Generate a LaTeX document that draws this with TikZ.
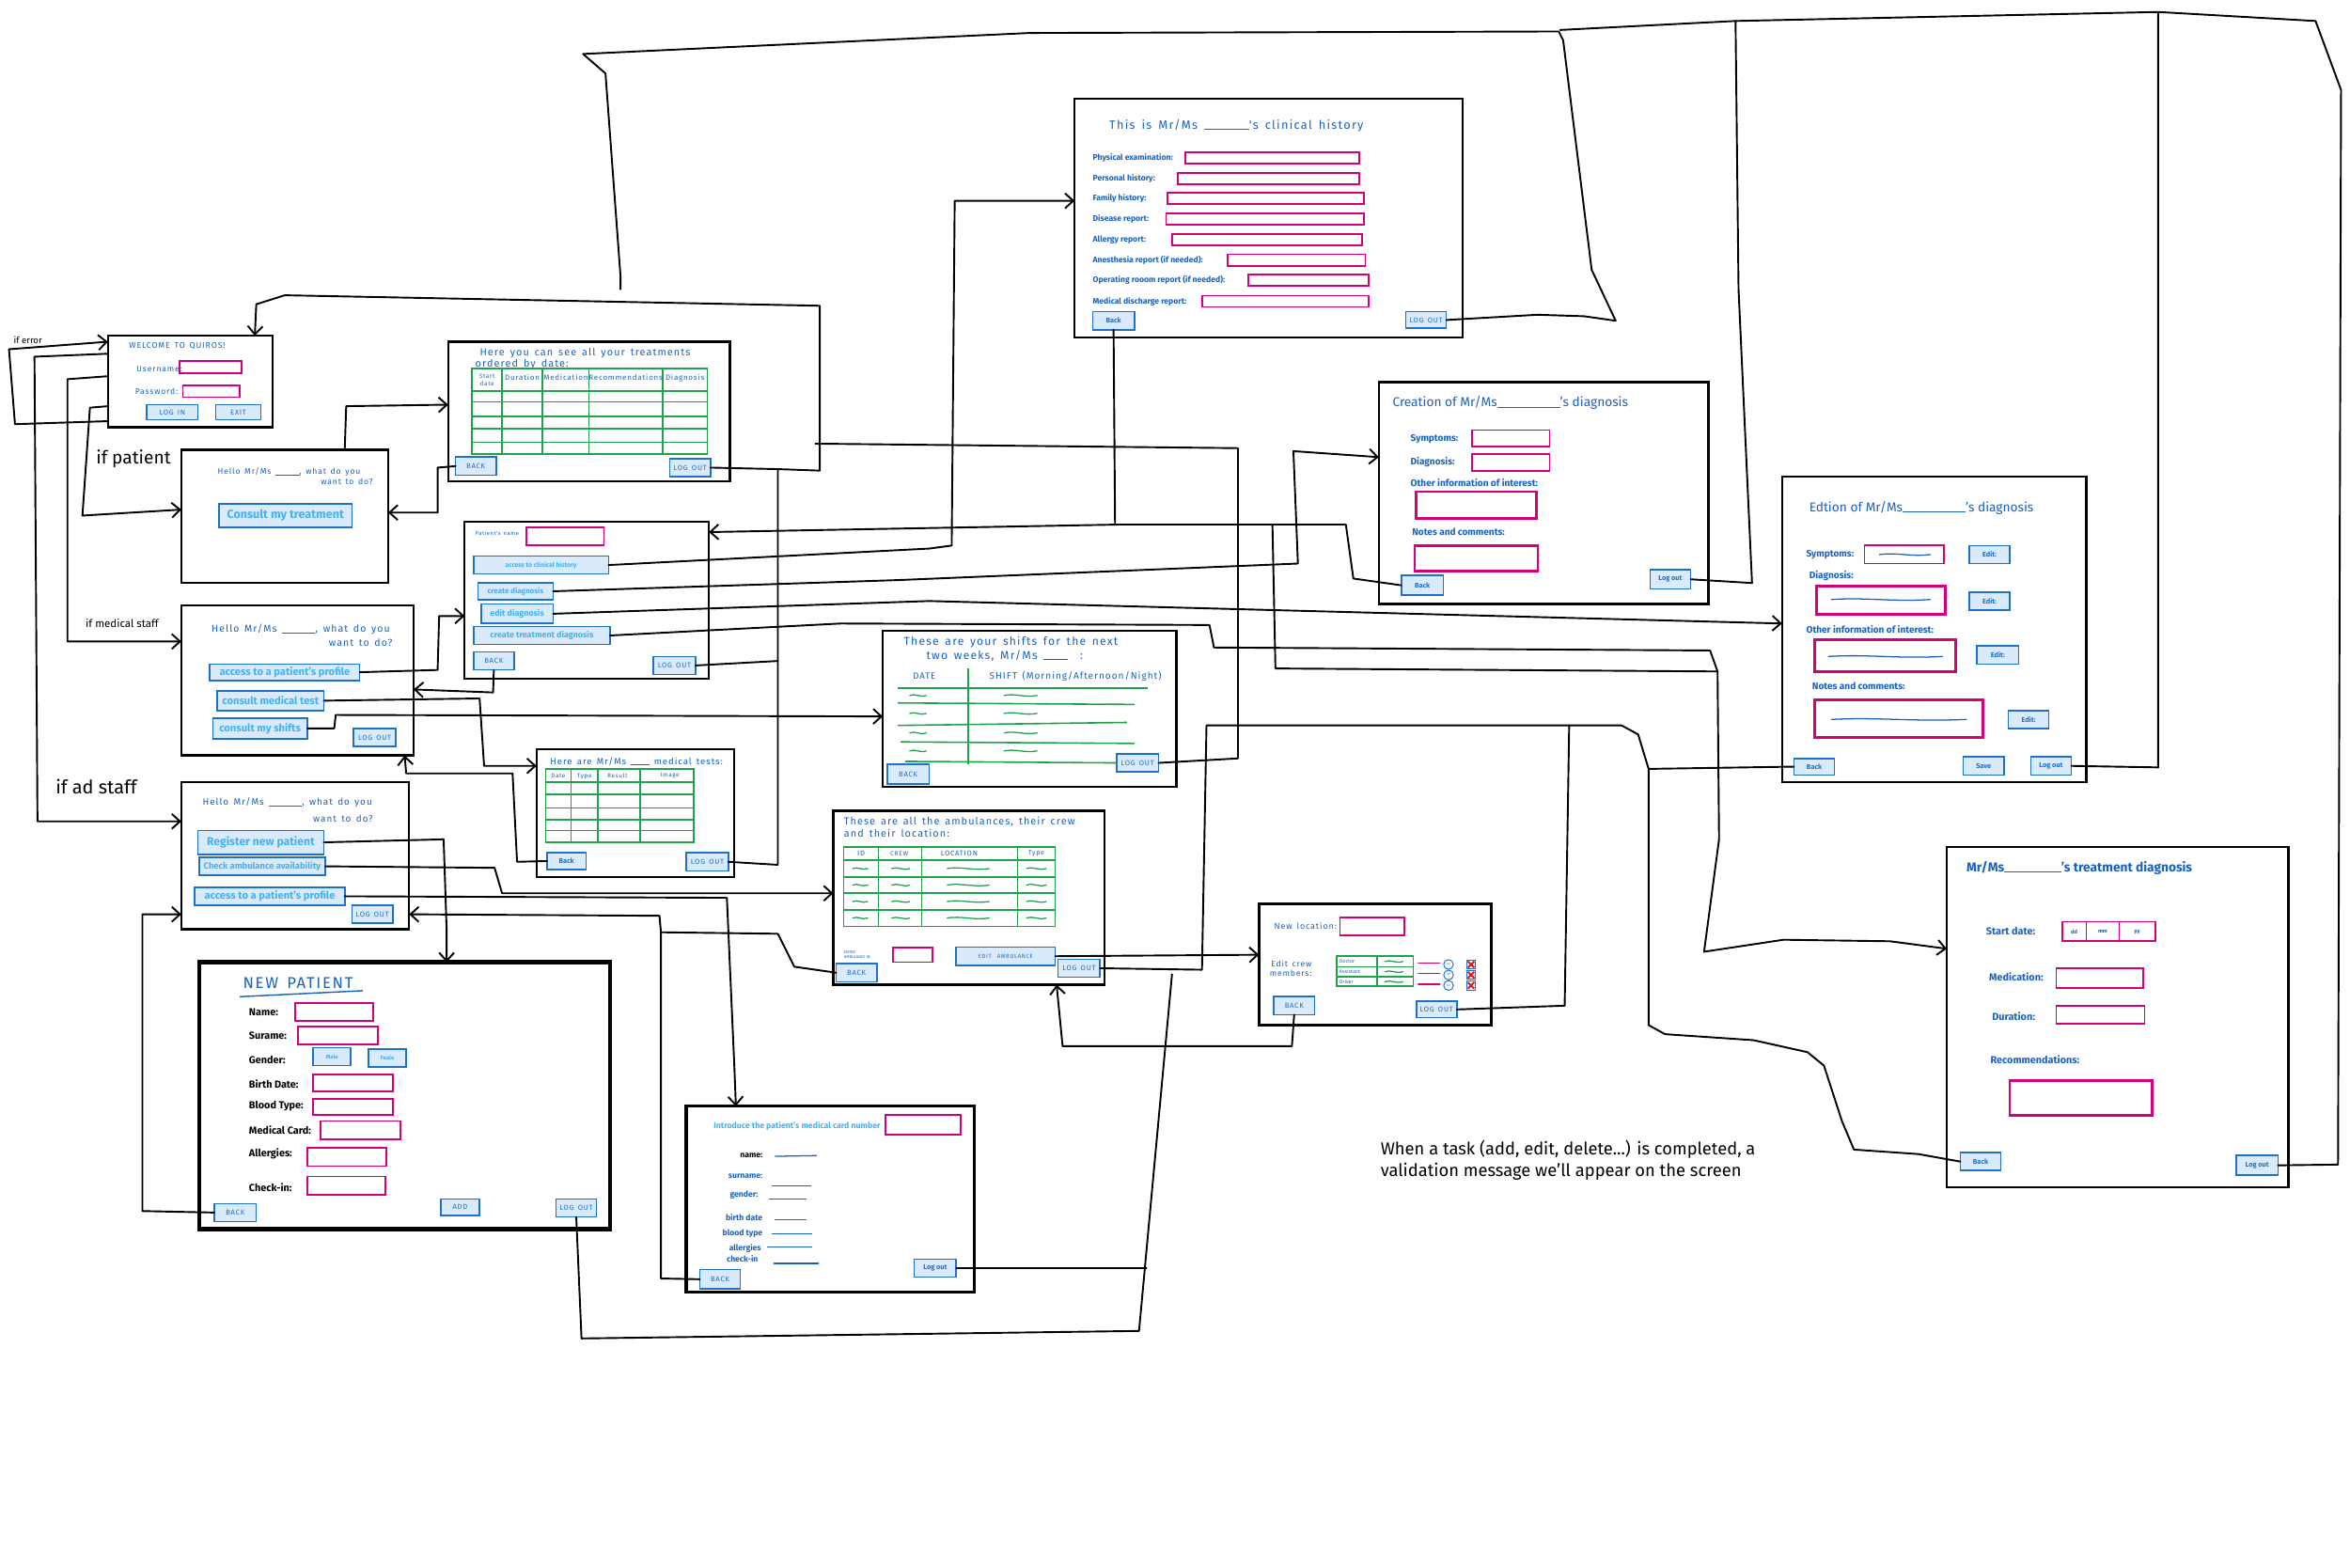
\documentclass[tikz,border=0pt]{standalone}
\usepackage{fontspec}
\setmainfont{Fira Sans}
\newfontfamily\hand[LetterSpace=10,WordSpace=1.5]{Fira Sans}
\usetikzlibrary{arrows.meta}

\definecolor{ink}{HTML}{1A62C0}
\definecolor{btnfill}{HTML}{D9EAFB}
\definecolor{btnline}{HTML}{1E70C8}
\definecolor{btntext}{HTML}{45B2F0}
\definecolor{fieldpink}{HTML}{D3007A}
\definecolor{gridgreen}{HTML}{1FA24B}
\definecolor{xred}{HTML}{E3141B}

\newcommand\fs[1]{\fontsize{#1}{\fpeval{1.2*#1}}\selectfont}
% \uibox{style}{name}{x1}{y1}{x2}{y2}{text}
\newcommand\uibox[7]{\node[#1,minimum width={#5-#3},minimum height={#6-#4}] (#2) at ({(#3+#5)/2},{(#4+#6)/2}) {#7};}
% \squig[colour]{x}{y}{width}
\newcommand\squig[4][gridgreen]{\draw[#1,line width=0.8pt,line cap=round] (#2,#3) .. controls ({#2+#4*0.35},{#3-1.6}) and ({#2+#4*0.6},{#3+1.6}) .. ({#2+#4},{#3});}
\newcommand\blank[1]{\rule[-0.3pt]{#1pt}{0.45pt}}

\tikzset{
  screen/.style={draw=black,line width=1.5pt,inner sep=0pt,outer sep=0pt},
  btn/.style={draw=btnline,fill=btnfill,line width=1pt,inner sep=0pt,outer sep=0pt,text=btnline,font=\hand\fs{4.8}},
  mbtn/.style={btn,text=btntext,font=\fs{7}\bfseries},
  bbtn/.style={btn,font=\fs{4.6}\bfseries},
  field/.style={draw=fieldpink,line width=1.1pt,inner sep=0pt,outer sep=0pt},
  bigfield/.style={field,line width=1.7pt},
  grid/.style={draw=gridgreen,line width=1pt},
  hand/.style={text=ink,inner sep=0pt,anchor=west},
  lbl/.style={hand,font=\fs{6.3}\bfseries},
  wire/.style={draw=black,line width=1.2pt,line join=round,line cap=round},
  arr/.style={wire,-{Straight Barb[length=5.5pt,width=10pt]}},
}

\begin{document}
\begin{tikzpicture}[x=1pt,y=-1pt]
\useasboundingbox (0,0) rectangle (1568,1046);
\fill[white] (0,0) rectangle (1568,1046);

%% ---------- log-in screen ----------
\uibox{screen}{login}{72}{224}{182}{285}{}
\node[hand,font=\hand\fs{5.5}] (loginTitle) at (86,231) {WELCOME TO QUIROS!};
\node[hand,font=\hand\fs{5.4}] (userLbl) at (91,246) {Username:};
\uibox{field}{userFld}{120}{241}{161}{249}{}
\node[hand,font=\hand\fs{5.4}] (passLbl) at (90,261) {Password:};
\uibox{field}{passFld}{122}{257}{160}{265}{}
\uibox{btn}{loginBtn}{98}{270}{132}{280}{LOG IN}
\uibox{btn}{exitBtn}{144}{270}{174}{280}{EXIT}

%% ---------- patient home ----------
\uibox{screen}{patHome}{121}{300}{259}{389}{}
\node[hand,font=\hand\fs{5.4}] (patHello) at (145,315) {Hello Mr/Ms\ \blank{16}, what do you};
\node[hand,font=\hand\fs{5.4},anchor=east] (patHello2) at (249,321.5) {want to do?};
\uibox{mbtn,font=\fs{7.9}\bfseries}{consultBtn}{146}{336}{235}{352}{Consult my treatment}

%% ---------- patient treatments ----------
\uibox{screen}{treat}{299}{228}{487}{321}{}
\node[hand,font=\hand\fs{6.8}] (treatTitle) at (320,235.5) {Here you can see all your treatments};
\node[hand,font=\hand\fs{6.8}] (treatTitle2) at (317,243) {ordered by date:};
\draw[grid] (315,246) rectangle (472,303);
\foreach \cx in {335,362,393,442} {\draw[grid] (\cx,246) -- (\cx,303);}
\foreach \ry in {261,268,278,286,295} {\draw[grid] (315,\ry) -- (472,\ry);}
\node[hand,anchor=center,align=center,font=\hand\fs{4}] (thStart) at (325,253.5) {Start\\date};
\node[hand,anchor=center,font=\hand\fs{5}] (thDur) at (348.5,252) {Duration};
\node[hand,anchor=center,font=\hand\fs{5}] (thMed) at (377.5,252) {Medication};
\node[hand,anchor=center,font=\hand\fs{5}] (thRec) at (417.5,252) {Recommendations};
\node[hand,anchor=center,font=\hand\fs{5}] (thDiag) at (457,252) {Diagnosis};
\uibox{btn}{treatBack}{304}{305}{331}{317}{BACK}
\uibox{btn}{treatOut}{447}{306}{474}{318}{LOG OUT}

%% ---------- medical staff home ----------
\uibox{screen}{medHome}{121}{404}{276}{504}{}
\node[hand,font=\hand\fs{6.6}] (medHello) at (141,420) {Hello Mr/Ms\ \blank{22}, what do you};
\node[hand,font=\hand\fs{6.6},anchor=east] (medHello2) at (262,428.5) {want to do?};
\uibox{mbtn}{medProfileBtn}{140}{443}{240}{454}{access to a patient's profile}
\uibox{mbtn}{medTestBtn}{145}{461}{216}{474}{consult medical test}
\uibox{mbtn}{medShiftBtn}{142}{479}{205}{493}{consult my shifts}
\uibox{btn}{medOut}{236}{486}{264}{498}{LOG OUT}

%% ---------- patient profile (medical staff) ----------
\uibox{screen}{profile}{310}{348}{473}{453}{}
\node[hand,font=\hand\fs{3.6}] (profNameLbl) at (317,356) {Patient's name};
\uibox{field}{profNameFld}{351}{352}{403}{364}{}
\uibox{mbtn,font=\fs{4.3}\bfseries}{clinBtn}{316}{371}{406}{383}{access to clinical history}
\uibox{mbtn,font=\fs{5}\bfseries}{createDiagBtn}{319}{389}{369}{400}{create diagnosis}
\uibox{mbtn,font=\fs{5.6}\bfseries}{editDiagBtn}{321}{403}{369}{416}{edit diagnosis}
\uibox{mbtn,font=\fs{5.6}\bfseries}{treatDiagBtn}{316}{418}{407}{430}{create treatment diagnosis}
\uibox{btn}{profBack}{316}{435}{343}{447}{BACK}
\uibox{btn}{profOut}{436}{438}{464}{450}{LOG OUT}

%% ---------- clinical history ----------
\uibox{screen}{clinical}{717}{66}{976}{225}{}
\node[hand,font=\hand\fs{8}] (clinTitle) at (740,84) {This is Mr/Ms\ \blank{30}'s clinical history};
\foreach \lab/\yy/\xa/\xb [count=\i] in {Physical examination:/105.5/791/907,Personal history:/119/786/907,Family history:/132.5/779/910,Disease report:/146/778/910,Allergy report:/160/782/909,Anesthesia report (if needed):/173.5/819/911,Operating rooom report (if needed):/187/833/913,Medical discharge report:/201/802/913}{
  \node[lbl,font=\fs{5.4}\bfseries] (clinLbl\i) at (729,\yy) {\lab};
  \draw[field] (\xa,\yy-3.8) rectangle (\xb,\yy+3.8);
}
\uibox{bbtn}{clinBack}{729}{208}{757}{220}{Back}
\uibox{btn}{clinOut}{938}{208}{965}{219}{LOG OUT}

%% ---------- creation of a diagnosis ----------
\uibox{screen}{creation}{920}{255}{1140}{403}{}
\node[hand,font=\fs{8.6}] (creaTitle) at (929,269) {Creation of Mr/Ms\blank{42}'s diagnosis};
\node[lbl] (creaSymLbl) at (941,293) {Symptoms:};
\uibox{field}{creaSymFld}{982}{287}{1034}{298}{}
\node[lbl] (creaDiagLbl) at (941,308) {Diagnosis:};
\uibox{field}{creaDiagFld}{982}{303}{1034}{314}{}
\node[lbl] (creaOtherLbl) at (941,322) {Other information of interest:};
\uibox{bigfield}{creaOtherFld}{945}{328}{1025}{346}{}
\node[lbl] (creaNotesLbl) at (942,355) {Notes and comments:};
\uibox{bigfield}{creaNotesFld}{944}{364}{1026}{381}{}
\uibox{bbtn}{creaBack}{935}{384}{963}{397}{Back}
\uibox{bbtn}{creaOut}{1101}{380}{1128}{393}{Log out}

%% ---------- edition of a diagnosis ----------
\uibox{screen}{edition}{1189}{318}{1392}{522}{}
\node[hand,font=\fs{8.6}] (ediTitle) at (1207,339) {Edtion of Mr/Ms\blank{42}'s diagnosis};
\node[lbl] (ediSymLbl) at (1205,370) {Symptoms:};
\uibox{field}{ediSymFld}{1244}{364}{1297}{376}{}
\squig[ink]{1254}{370}{34}
\uibox{bbtn}{ediSymEdit}{1314}{364}{1341}{376}{Edit:}
\node[lbl] (ediDiagLbl) at (1207,384) {Diagnosis:};
\uibox{bigfield}{ediDiagFld}{1212}{391}{1298}{410}{}
\squig[ink]{1222}{400}{66}
\uibox{bbtn}{ediDiagEdit}{1314}{395}{1341}{407}{Edit:}
\node[lbl] (ediOtherLbl) at (1205,420) {Other information of interest:};
\uibox{bigfield}{ediOtherFld}{1211}{427}{1305}{448}{}
\squig[ink]{1220}{438}{76}
\uibox{bbtn}{ediOtherEdit}{1319}{431}{1347}{443}{Edit:}
\node[lbl] (ediNotesLbl) at (1209,458) {Notes and comments:};
\uibox{bigfield}{ediNotesFld}{1211}{467}{1323}{492}{}
\squig[ink]{1222}{480}{90}
\uibox{bbtn}{ediNotesEdit}{1340}{474}{1367}{486}{Edit:}
\uibox{bbtn}{ediBack}{1197}{506}{1224}{517}{Back}
\uibox{bbtn}{ediSave}{1310}{505}{1337}{517}{Save}
\uibox{bbtn}{ediOut}{1355}{505}{1382}{517}{Log out}

%% ---------- shifts ----------
\uibox{screen}{shifts}{589}{421}{785}{525}{}
\node[hand,font=\hand\fs{7.6}] (shiftTitle) at (603,428.5) {These are your shifts for the next};
\node[hand,font=\hand\fs{7.6}] (shiftTitle2) at (618,437.5) {two weeks, Mr/Ms\ \blank{16}\ \ :};
\node[hand,font=\hand\fs{6}] (shiftDate) at (609,451) {DATE};
\node[hand,font=\hand\fs{6.3}] (shiftShift) at (660,451) {SHIFT (Morning/Afternoon/Night)};
\draw[grid] (599,459) -- (766,459);
\draw[grid] (599,469) -- (757,470);
\draw[grid] (599,484) -- (752,482);
\draw[grid] (601,495) -- (757,496);
\draw[grid] (604,508) -- (745,509);
\draw[grid] (646,446) -- (646,510);
\foreach \ry in {464,476,489,501} {\squig{607}{\ry}{11}\squig{670}{\ry}{22}}
\uibox{btn}{shiftBack}{592}{510}{620}{523}{BACK}
\uibox{btn}{shiftOut}{745}{503}{773}{515}{LOG OUT}

%% ---------- medical tests ----------
\uibox{screen}{tests}{358}{500}{490}{585}{}
\node[hand,font=\hand\fs{6}] (testTitle) at (367,508) {Here are Mr/Ms\ \blank{12}\ medical tests:};
\draw[grid] (364,513) rectangle (463,562);
\foreach \cx in {381,399,427} {\draw[grid] (\cx,513) -- (\cx,562);}
\foreach \ry in {522,530,539,547,554} {\draw[grid] (364,\ry) -- (463,\ry);}
\node[hand,anchor=center,font=\hand\fs{4}] (tdDate) at (372.5,517.5) {Date};
\node[hand,anchor=center,font=\hand\fs{4}] (tdType) at (390,518) {Type};
\node[hand,anchor=center,font=\hand\fs{4}] (tdRes) at (412,517.5) {Result};
\node[hand,anchor=center,font=\hand\fs{4}] (tdImg) at (447,517.5) {Image};
\uibox{bbtn}{testBack}{365}{569}{391}{580}{Back}
\uibox{btn}{testOut}{458}{569}{486}{581}{LOG OUT}

%% ---------- ambulances ----------
\uibox{screen}{amb}{556}{541}{737}{657}{}
\node[hand,font=\hand\fs{6.8}] (ambTitle) at (563,548) {These are all the ambulances, their crew};
\node[hand,font=\hand\fs{6.8}] (ambTitle2) at (563,555.8) {and their location:};
\draw[grid] (563,565) rectangle (704,618);
\foreach \cx in {586,615,679} {\draw[grid] (\cx,565) -- (\cx,618);}
\foreach \ry in {574,585,596,607} {\draw[grid] (563,\ry) -- (704,\ry);}
\node[hand,anchor=center,font=\hand\fs{4.8}] (taId) at (574.5,569.5) {ID};
\node[hand,anchor=center,font=\hand\fs{4.2}] (taCrew) at (600,569.5) {CREW};
\node[hand,anchor=center,font=\hand\fs{4.8}] (taLoc) at (640,569.5) {LOCATION};
\node[hand,anchor=center,font=\hand\fs{4.4}] (taType) at (691.5,569.5) {Type};
\foreach \ry in {579.5,590.5,601.5,612.5} {\squig{569}{\ry}{10}\squig{595}{\ry}{12}\squig{632}{\ry}{28}\squig{685}{\ry}{13}}
\node[hand,align=left,font=\fs{2.6}] (ambIdLbl) at (563,637) {ENTER\\AMBULANCE ID:};
\uibox{field}{ambIdFld}{596}{632}{622}{642}{}
\uibox{btn,font=\hand\fs{3.8}}{editAmbBtn}{638}{632}{704}{644}{EDIT\quad AMBULANCE}
\uibox{btn}{ambBack}{558}{643}{585}{655}{BACK}
\uibox{btn}{ambOut}{706}{640}{734}{652}{LOG OUT}

%% ---------- ambulance edition ----------
\uibox{screen}{crew}{840}{603}{995}{684}{}
\node[hand,font=\hand\fs{5.6}] (crewLocLbl) at (850,618) {New location:};
\uibox{field}{crewLocFld}{894}{612}{937}{624}{}
\node[hand,font=\hand\fs{5.4},align=right] (crewLbl) at (847,646) {Edit crew\\members:};
\draw[grid] (892,638) rectangle (943,658);
\draw[grid] (919,638) -- (919,658);
\draw[grid] (892,645) -- (943,645);
\draw[grid] (892,651.5) -- (943,651.5);
\node[hand,font=\fs{3.4}] (crewDoc) at (893.5,641.5) {Doctor};
\node[hand,font=\fs{3.4}] (crewAss) at (893.5,648.3) {Assistant};
\node[hand,font=\fs{3.4}] (crewDrv) at (893.5,655) {Driver};
\foreach \ry in {641.5,648.3,655} {\squig{924}{\ry}{12}}
\foreach \ry [count=\i] in {642.5,649.5,656.5} {
  \uibox{field}{crewFld\i}{946}{\ry-2.6}{961}{\ry+2.6}{}
  \node[circle,draw=btnline,line width=0.6pt,minimum size=6.5pt,inner sep=0pt,font=\fs{1.5},text=btnline] (crewEdit\i) at (966.5,\ry+1) {EDIT};
  \node[draw=btnline,line width=0.6pt,minimum size=6pt,inner sep=0pt] (crewDel\i) at (981.5,\ry+1) {};
  \draw[xred,line width=1.2pt] ([shift={(1.2,-1.2)}]crewDel\i.south west) -- ([shift={(-1.2,1.2)}]crewDel\i.north east);
  \draw[xred,line width=1.2pt] ([shift={(1.2,1.2)}]crewDel\i.north west) -- ([shift={(-1.2,-1.2)}]crewDel\i.south east);
}
\uibox{btn}{crewBack}{850}{665}{877}{677}{BACK}
\uibox{btn}{crewOut}{945}{668}{972}{679}{LOG OUT}

%% ---------- administrative staff home ----------
\uibox{screen}{adHome}{121}{522}{273}{620}{}
\node[hand,font=\hand\fs{6.2}] (adHello) at (135,535.5) {Hello Mr/Ms\ \blank{22}, what do you};
\node[hand,font=\hand\fs{6.2},anchor=east] (adHello2) at (249,546) {want to do?};
\uibox{mbtn,font=\fs{7.6}\bfseries}{regBtn}{132}{554}{216}{570}{Register new patient}
\uibox{mbtn,font=\fs{5.9}\bfseries}{ambBtn}{133}{572}{217}{584}{Check ambulance availability}
\uibox{mbtn,font=\fs{7}\bfseries}{adProfileBtn}{130}{592}{230}{604}{access to a patient's profile}
\uibox{btn}{adOut}{235}{604}{262}{616}{LOG OUT}

%% ---------- new patient ----------
\uibox{screen,line width=3pt}{newPat}{133}{642}{407}{820}{}
\node[hand,font=\hand\fs{10.5}] (newTitle) at (162,656) {NEW PATIENT};
\draw[ink,line width=0.9pt] (160,665) -- (242,661);
\foreach \lab/\yy [count=\i] in {Name:/675.5,Surame:/691,Gender:/707,Birth Date:/723,Blood Type:/738,Medical Card:/754,Allergies:/770,Check-in:/792}{
  \node[inner sep=0pt,anchor=west,font=\fs{6.8}\bfseries] (npLbl\i) at (166,\yy) {\lab};
}
\uibox{field}{npName}{197}{669}{249}{681}{}
\uibox{field}{npSurname}{199}{685}{252}{697}{}
\uibox{mbtn,font=\fs{3.8}\bfseries}{npMale}{209}{699}{234}{711}{Male}
\uibox{mbtn,font=\fs{3.8}\bfseries}{npFemale}{246}{700}{271}{712}{Feale}
\uibox{field}{npBirth}{209}{717}{262}{728}{}
\uibox{field}{npBlood}{209}{733}{262}{744}{}
\uibox{field}{npCard}{214}{748}{267}{760}{}
\uibox{field}{npAllerg}{205}{766}{258}{778}{}
\uibox{field}{npCheck}{205}{785}{257}{797}{}
\uibox{btn}{npBack}{143}{803}{171}{815}{BACK}
\uibox{btn}{npAdd}{294}{800}{320}{811}{ADD}
\uibox{btn}{npOut}{371}{800}{398}{812}{LOG OUT}

%% ---------- patient lookup by medical card ----------
\uibox{screen,line width=2.2pt}{card}{458}{738}{650}{862}{}
\node[hand,text=btntext,font=\fs{5.5}\bfseries] (cardTitle) at (476,751.5) {Introduce the patient's medical card number};
\uibox{field}{cardFld}{591}{744}{641}{757}{}
\node[inner sep=0pt,anchor=east,font=\fs{5.4}\bfseries] (cdName) at (509,771) {name:};
\foreach \lab/\xx/\yy/\la/\lb/\ly [count=\i] in {surname:/509/785/515/541/791,gender:/506/797/513/538/800,birth date/509/812/517/538/814,blood type/509/823/515/542/823,allergies/508/833/512/542/832,check-in/506/840/516/546/843}{
  \node[hand,anchor=east,font=\fs{5.4}\bfseries] (cdLbl\i) at (\xx,\yy) {\lab};
  \draw[ink,line width=0.8pt] (\la,\ly) -- (\lb,\ly);
}
\draw[ink,line width=0.8pt] (517,771.5) -- (545,771);
\uibox{btn}{cardBack}{467}{847}{494}{860}{BACK}
\uibox{bbtn}{cardOut}{610}{840}{638}{852}{Log out}

%% ---------- treatment diagnosis ----------
\uibox{screen}{treatDiag}{1299}{565}{1527}{792}{}
\node[hand,font=\fs{8.6}\bfseries] (tdTitle) at (1312,579) {Mr/Ms\blank{38}'s treatment diagnosis};
\node[lbl,font=\fs{6.8}\bfseries] (tdStartLbl) at (1325,621) {Start date:};
\uibox{field}{tdStart}{1376}{615}{1438}{628}{}
\draw[field] (1392,615) -- (1392,628);
\draw[field] (1414,615) -- (1414,628);
\node[hand,anchor=center,font=\fs{3.6}\bfseries] (tdDD) at (1384,621.5) {dd};
\node[hand,anchor=center,font=\fs{3.6}\bfseries] (tdMM) at (1403,621.5) {mm};
\node[hand,anchor=center,font=\fs{3.6}\bfseries] (tdYY) at (1426,622) {yy};
\node[lbl,font=\fs{6.8}\bfseries] (tdMedLbl) at (1327,652) {Medication:};
\uibox{field}{tdMed}{1372}{646}{1430}{659}{}
\node[lbl,font=\fs{6.8}\bfseries] (tdDurLbl) at (1329,678) {Duration:};
\uibox{field}{tdDur}{1372}{671}{1431}{683}{}
\node[lbl,font=\fs{6.8}\bfseries] (tdRecLbl) at (1328,707) {Recommendations:};
\uibox{bigfield}{tdRec}{1341}{721}{1436}{744}{}
\uibox{bbtn}{tdBack}{1308}{769}{1335}{781}{Back}
\uibox{bbtn}{tdOut}{1492}{771}{1520}{784}{Log out}

%% ---------- note ----------
\node[inner sep=0pt,anchor=west,font=\fs{11.5}] (note1) at (921,767) {When a task (add, edit, delete...) is completed, a};
\node[inner sep=0pt,anchor=west,font=\fs{11.5}] (note2) at (921,781.5) {validation message we'll appear on the screen};

%% ---------- log-in outcomes ----------
\node[inner sep=0pt,anchor=south west,font=\fs{6}] (ifError) at (9,229.5) {if error};
\node[inner sep=0pt,anchor=west,font=\fs{12}] (ifPatient) at (64,306) {if patient};
\node[inner sep=0pt,anchor=west,font=\fs{7.2}] (ifMedical) at (57,416) {if medical staff};
\node[inner sep=0pt,anchor=west,font=\fs{12.5}] (ifAdmin) at (37,525) {if ad staff};
\draw[arr] (login.west |- 0,281) -- (10,283) -- (6,233) -- (login.west |- 0,228);
\draw[arr] (login.west |- 0,271) -- (60,272) -- (55,344) -- (patHome.west |- 0,340);
\draw[arr] (login.west |- 0,251) -- (45,253) -- (45,428) -- (medHome.west |- 0,428);
\draw[arr] (login.west |- 0,236) -- (23,238) -- (25,548) -- (adHome.west |- 0,548);

%% ---------- patient flow ----------
\draw[arr] (patHome.north -| 230,0) -- (231,271) -- (treat.west |- 0,270);
\draw[arr] (treatBack.west) -- (292,312) -- (292,342) -- (patHome.east |- 0,342);

%% ---------- log-out lines back to the log-in screen ----------
\draw[arr] (treatOut.east) -- (519,313) -- (547,314) -- (547,204) -- (190,197) -- (171,203) -- (login.north -| 170,0);
\draw[wire] (profOut.east) -- (519,441);
\draw[wire] (testOut.east) -- (519,577) -- (519,313);
\draw[wire] (shiftOut.east) -- (826,506) -- (826,299) -- (544,296);
\draw[wire] (clinOut.east) -- (1026,210) -- (1057,211) -- (1078,214) -- (1062,180) -- (1043,27) -- (1040,21) -- (687,22) -- (389,36) -- (404,49) -- (414,184) -- (414,193);
\draw[wire] (creaOut.east) -- (1169,389) -- (1160,193) -- (1158,14) -- (1041,20);
\draw[wire] (ediOut.east) -- (1440,512) -- (1440,8) -- (1158,14);
\draw[wire] (tdOut.east) -- (1560,777) -- (1562,60) -- (1545,14) -- (1440,8);
\draw[wire] (ambOut.east) -- (802,647) -- (805,484) -- (826,484);
\draw[wire] (crewOut.east) -- (1044,671) -- (1047,484) -- (826,484);
\draw[wire] (npOut.south) -- (388,893) -- (760,888) -- (782,650);
\draw[wire] (cardOut.east) -- (765,846);

%% ---------- medical staff flow ----------
\draw[arr] (medProfileBtn.east) -- (292,447) -- (293,411) -- (profile.west |- 0,411);
\draw[arr] (profBack.south) -- (329,462) -- (medHome.east |- 0,460);
\draw[arr] (medTestBtn.east) -- (320,466) -- (323,511) -- (tests.west |- 0,511);
\draw[arr] (testBack.west) -- (345,575) -- (342,516) -- (271,516) -- (medHome.south -| 270,0);
\draw[arr] (medShiftBtn.east) -- (223,486) -- (224,477) -- (shifts.west |- 0,478);
\draw[arr] (clinBtn.east) -- (620,366) -- (635,364) -- (637,134) -- (clinical.west |- 0,134);
\draw[arr] (createDiagBtn.east) -- (600,387) -- (866,376) -- (863,301) -- (creation.west |- 0,305);
\draw[arr] (editDiagBtn.east) -- (620,401) -- (edition.west |- 0,416);
\draw[arr] (treatDiagBtn.east) -- (561,416) -- (807,417) -- (810,432) -- (1141,434) -- (1146,448) -- (1147,560) -- (1137,635) -- (1190,627) -- (1261,628) -- (treatDiag.west |- 0,633);
%% back buttons returning to the patient profile
\draw[arr] (creaBack.west) -- (903,386) -- (898,350) -- (746,350) -- (profile.east |- 0,355);
\draw[wire] (clinBack.south) -- (744,350);
\draw[wire] (849,350) -- (851,446) -- (1146,448);
\draw[wire] (tdBack.west) -- (1280,770) -- (1237,767) -- (1229,748) -- (1217,711) -- (1206,702) -- (1170,694) -- (1111,690) -- (1100,684) -- (1100,513) -- (1093,490) -- (1082,484) -- (1047,484);
\draw[wire] (ediBack.west) -- (1100,513);

%% ---------- administrative staff flow ----------
\draw[arr] (regBtn.east) -- (296,560) -- (298,620) -- (newPat.north -| 298,0);
\draw[arr] (ambBtn.east) -- (330,579) -- (335,596) -- (amb.west |- 0,596);
\draw[arr] (adProfileBtn.east) -- (485,599) -- (490,712) -- (card.north -| 491,0);
\draw[arr] (npBack.west) -- (95,808) -- (95,610) -- (adHome.west |- 0,610);
\draw[arr] (cardBack.west) -- (441,853) -- (441,622) -- (440,611) -- (adHome.east |- 0,610);
\draw[wire] (ambBack.west) -- (530,645) -- (519,623) -- (441,622);
\draw[arr] (editAmbBtn.east) -- (crew.west |- 0,637);
\draw[arr] (crewBack.south) -- (862,698) -- (709,698) -- (amb.south -| 705,0);
\end{tikzpicture}
\end{document}
